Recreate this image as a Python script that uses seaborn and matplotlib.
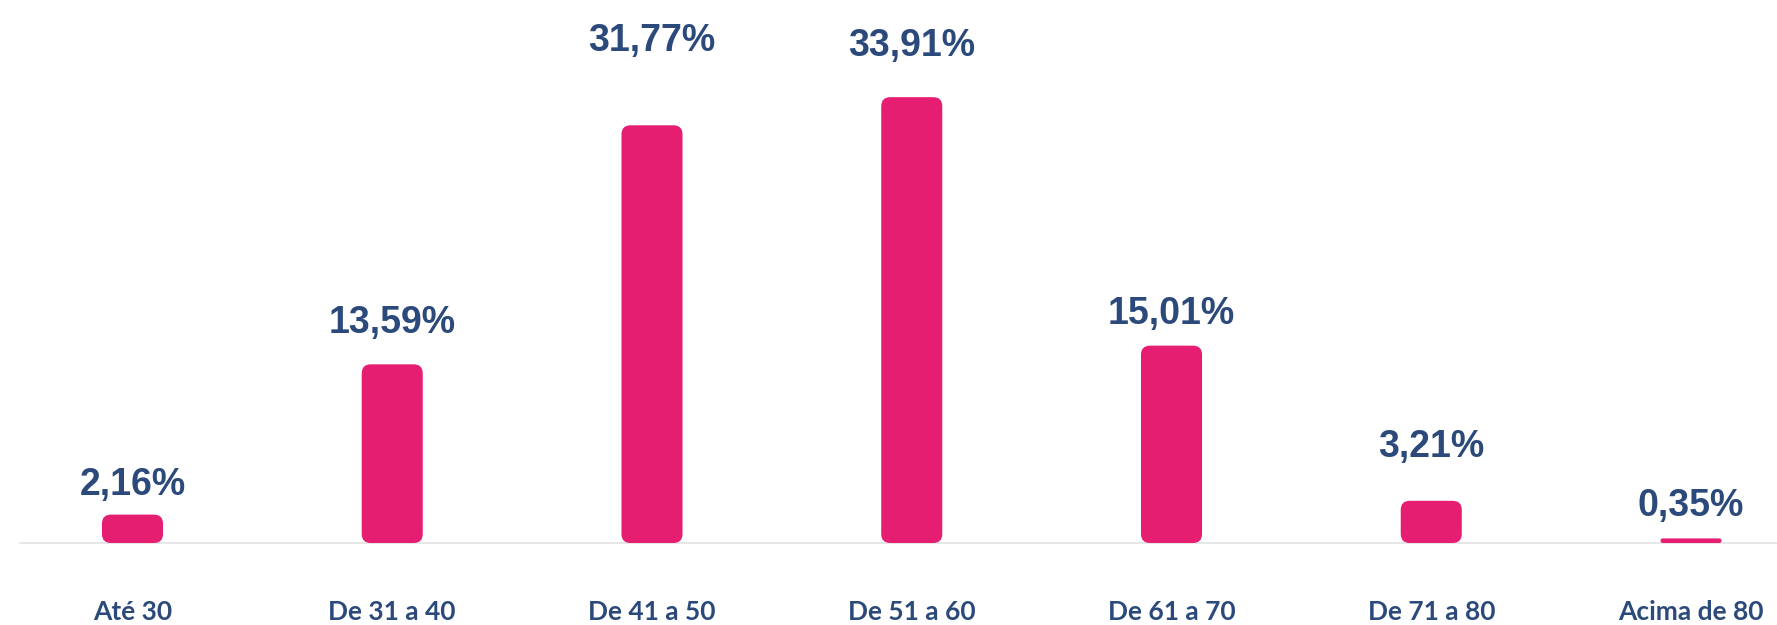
import matplotlib
matplotlib.use("Agg")
import matplotlib.pyplot as plt
import seaborn as sns
import pandas as pd
from matplotlib.patches import FancyBboxPatch

# ---- data ----
categories = ["Até 30", "De 31 a 40", "De 41 a 50", "De 51 a 60",
              "De 61 a 70", "De 71 a 80", "Acima de 80"]
values = [2.16, 13.59, 31.77, 33.91, 15.01, 3.21, 0.35]
value_labels = ["2,16%", "13,59%", "31,77%", "33,91%", "15,01%", "3,21%", "0,35%"]

# ---- style ----
label_offsets_pt = [21, 30, 61, 37, 23, 39, 23]
PINK = "#E51E72"
NAVY = "#2B4A7B"
W_PX, H_PX = 1777, 625
AX_LEFT_PX, AX_BOTTOM_PX = 20, 82
XLIM = (-0.433, 6.331)
YMAX = 41.3

sns.set_theme(style="white")
fig = plt.figure(figsize=(W_PX / 100, H_PX / 100), dpi=100)
ax_w_px = W_PX - AX_LEFT_PX
ax_h_px = H_PX - AX_BOTTOM_PX
ax = fig.add_axes([AX_LEFT_PX / W_PX, AX_BOTTOM_PX / H_PX, ax_w_px / W_PX, ax_h_px / H_PX])

df = pd.DataFrame({"cat": categories, "val": values})
sns.barplot(data=df, x="cat", y="val", color=PINK, width=0.235, saturation=1,
            ax=ax, errorbar=None)

ax.set_xlim(*XLIM)
ax.set_ylim(0, YMAX)

px_per_x = ax_w_px / (XLIM[1] - XLIM[0])
px_per_y = ax_h_px / YMAX
aspect = px_per_x / px_per_y

for p, lab, off in zip(list(ax.patches), value_labels, label_offsets_pt):
    x, w, h = p.get_x(), p.get_width(), p.get_height()
    r = 9 / px_per_x
    r = min(r, h / 2 / aspect)
    box = FancyBboxPatch((x, 0), w, h,
                         boxstyle=f"round,pad=0,rounding_size={r}",
                         mutation_aspect=aspect, fc=PINK, ec="none", zorder=3)
    p.set_visible(False)
    ax.add_patch(box)
    ax.annotate(lab, (x + w / 2, h), xytext=(0, off), textcoords="offset points",
                ha="center", va="center", fontsize=27, fontweight="bold",
                family="Liberation Sans", color=NAVY)

ax.set_xticks(range(len(categories)))
ax.set_xticklabels(categories, fontfamily="Lato", fontweight="bold",
                   fontsize=19, color=NAVY)
ax.tick_params(axis="x", length=0, pad=41)
ax.set_yticks([])
ax.set_xlabel("")
ax.set_ylabel("")
for s in ["top", "right", "left"]:
    ax.spines[s].set_visible(False)
ax.spines["bottom"].set_color("#E3E3E3")
ax.spines["bottom"].set_linewidth(1.2)
ax.set_facecolor("white")
fig.patch.set_facecolor("white")

fig.savefig("out.png", dpi=100)
